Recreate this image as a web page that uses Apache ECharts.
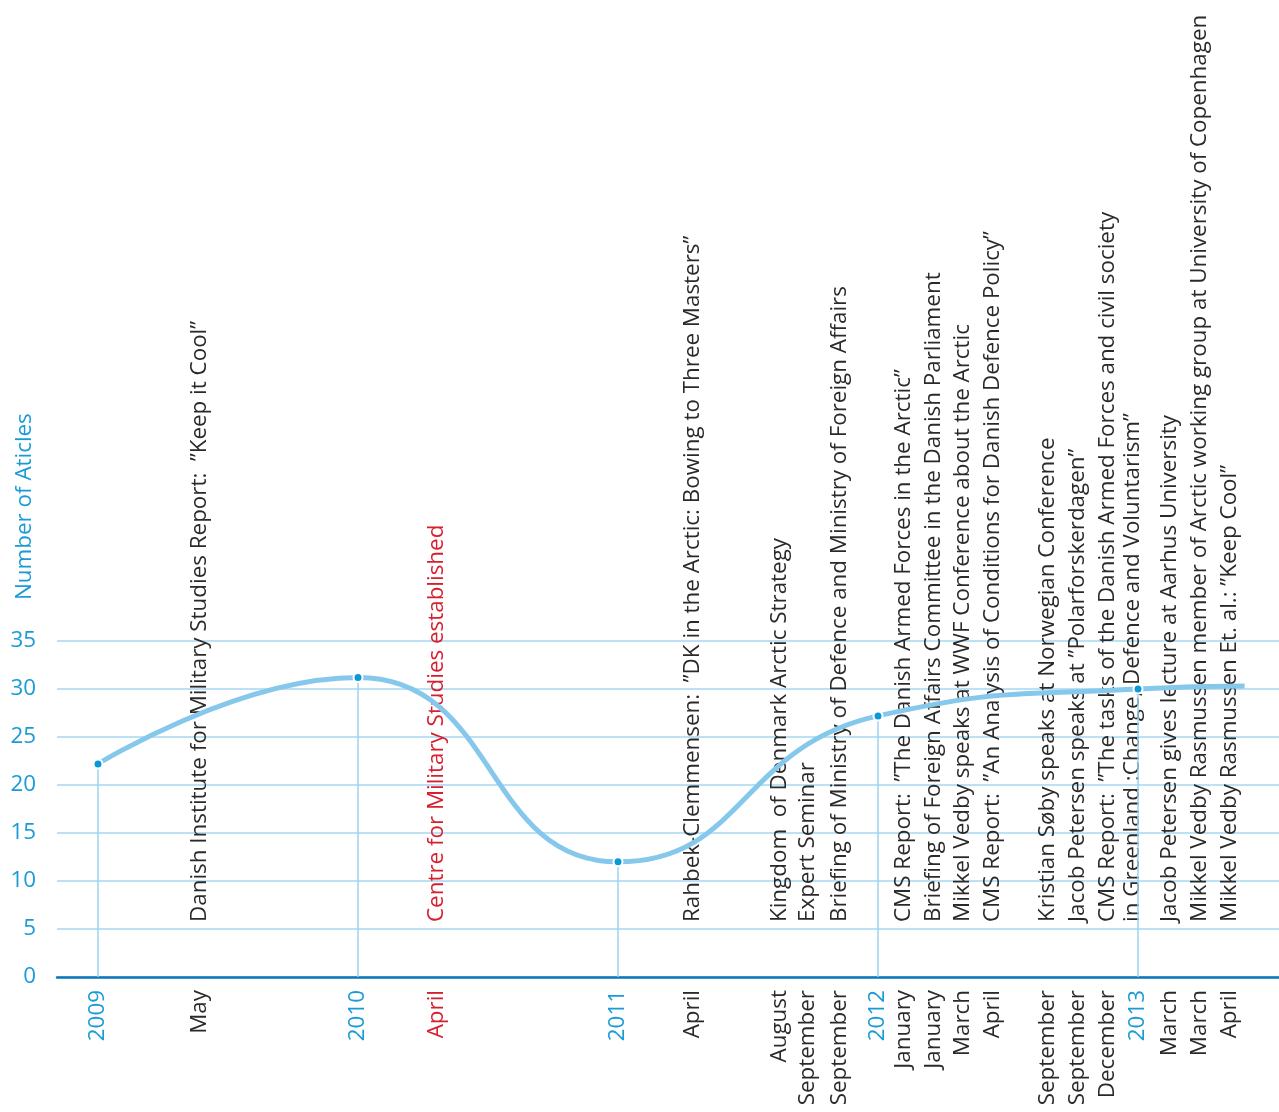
<!DOCTYPE html>
<html><head><meta charset="utf-8">
<script src="https://cdn.jsdelivr.net/npm/echarts@6/dist/echarts.min.js"></script>
<style>html,body{margin:0;padding:0;background:#fff}#c{width:1279px;height:1112px}</style>
</head><body><div id="c"></div>
<script>
// Data (decimal years on the x axis)
const pointYears = [2009, 2010, 2011, 2012, 2013, 2013.41];
const articleCounts = [22.2, 31.2, 12.0, 27.2, 30.0, 30.3];
const markedYears = [2009, 2010, 2011, 2012, 2013];
const yearTicks = [2009, 2010, 2011, 2012, 2013];
const monthTicks = [2009.392, 2010.304, 2011.288, 2011.623, 2011.731, 2011.854, 2012.100, 2012.215, 2012.327, 2012.442, 2012.654, 2012.769, 2012.885, 2013.123, 2013.238, 2013.354];
const monthLabels = ['May', 'April', 'April', 'August', 'September', 'September', 'January', 'January', 'March', 'April', 'September', 'September', 'December', 'March', 'March', 'April'];
const eventTicks = [2009.392, 2010.304, 2011.288, 2011.623, 2011.731, 2011.854, 2012.100, 2012.215, 2012.327, 2012.442, 2012.654, 2012.769, 2012.933, 2013.123, 2013.238, 2013.354];
const eventLabels = [
  'Danish Institute for Military Studies Report:  \u201DKeep it Cool\u201D',
  'Centre for Military Studies established',
  'Rahbek-Clemmensen:  \u201DDK in the Arctic: Bowing to Three Masters\u201D',
  'Kingdom  of Denmark Arctic Strategy',
  'Expert Seminar',
  'Briefing of Ministry of Defence and Ministry of Foreign Affairs',
  'CMS Report:  \u201DThe Danish Armed Forces in the Arctic\u201D',
  'Briefing of Foreign Affairs Committee in the Danish Parliament',
  'Mikkel Vedby speaks at WWF Conference about the Arctic',
  'CMS Report:  \u201DAn Analysis of Conditions for Danish Defence Policy\u201D',
  'Kristian S\u00F8by speaks at Norwegian Conference',
  'Jacob Petersen speaks at \u201DPolarforskerdagen\u201D',
  'CMS Report:  \u201DThe tasks of the Danish Armed Forces and civil society\nin Greenland :Change, Defence and Voluntarism\u201D',
  'Jacob Petersen gives lecture at Aarhus University',
  'Mikkel Vedby Rasmussen member of Arctic working group at University of Copenhagen',
  'Mikkel Vedby Rasmussen Et. al.: \u201DKeep Cool\u201D'
];
const highlightTicks = [2010.304];
const yAxisTitle = 'Number of Aticles';

const FONT = '"Open Sans", "Noto Sans", sans-serif';
const FS = 22.4;
const FW = 'normal';
const BLUE = '#1a9bd7';
const RED = '#d7202f';
const INK = '#2b2a29';
const near = (a, b) => Math.abs(a - b) < 1e-6;
const isHi = v => highlightTicks.some(h => near(h, v));

const lineData = pointYears.map((x, i) => ({
  value: [x, articleCounts[i]],
  symbol: markedYears.some(m => near(m, x)) ? 'circle' : 'none'
}));
const dropLines = markedYears.map(x => {
  const i = pointYears.findIndex(p => near(p, x));
  return [{ coord: [x, 0] }, { coord: [x, articleCounts[i]] }];
});

const chart = echarts.init(document.getElementById('c'), null, { renderer: 'canvas' });
chart.setOption({
  backgroundColor: '#fff',
  animation: false,
  grid: { left: 57, right: 0, top: 641, bottom: 135, containLabel: false, outerBoundsMode: 'none' },
  graphic: [{
    type: 'text', x: 25, y: 600, rotation: Math.PI / 2,
    style: { text: yAxisTitle, fill: BLUE, font: FW + ' ' + FS + 'px ' + FONT, align: 'left', verticalAlign: 'middle' }
  }],
  xAxis: [{
    type: 'value', position: 'bottom',
    min: 2008.8423, max: 2013.5423,
    axisLine: { show: true, lineStyle: { color: '#0b77b9', width: 2.5 } },
    axisTick: { show: false },
    splitLine: { show: false },
    axisLabel: {
      customValues: yearTicks.concat(monthTicks),
      rotate: 90, margin: 13, hideOverlap: false,
      fontFamily: FONT, fontSize: FS, fontWeight: FW,
      formatter: v => {
        if (yearTicks.some(y => near(y, v))) return '{y|' + Math.round(v) + '}';
        const i = monthTicks.findIndex(m => near(m, v));
        return (isHi(v) ? '{r|' : '{k|') + monthLabels[i] + '}';
      },
      rich: {
        y: { color: BLUE, fontFamily: FONT, fontSize: FS, fontWeight: FW },
        r: { color: RED, fontFamily: FONT, fontSize: FS, fontWeight: FW },
        k: { color: INK, fontFamily: FONT, fontSize: FS, fontWeight: FW }
      }
    }
  }, {
    type: 'value', position: 'bottom',
    min: 2008.8423, max: 2013.5423,
    axisLine: { show: false }, axisTick: { show: false }, splitLine: { show: false },
    axisLabel: {
      customValues: eventTicks,
      inside: true, rotate: 90, margin: 55, hideOverlap: false,
      fontFamily: FONT, fontSize: FS, fontWeight: FW, lineHeight: 25,
      formatter: v => {
        const i = eventTicks.findIndex(m => near(m, v));
        const s = isHi(v) ? 'r' : 'k';
        return eventLabels[i].split('\n').map(t => '{' + s + '|' + t + '}').join('\n');
      },
      rich: {
        r: { color: RED, fontFamily: FONT, fontSize: FS, fontWeight: FW, lineHeight: 25 },
        k: { color: INK, fontFamily: FONT, fontSize: FS, fontWeight: FW, lineHeight: 25 }
      }
    }
  }],
  yAxis: {
    type: 'value', min: 0, max: 35, interval: 5,
    axisLine: { show: false }, axisTick: { show: false },
    axisLabel: { color: BLUE, fontFamily: FONT, fontSize: FS, fontWeight: FW, margin: 21 },
    splitLine: { lineStyle: { color: '#a6d6f1', width: 1.5 } }
  },
  series: [{
    type: 'line', xAxisIndex: 0,
    data: lineData, smooth: 0.5,
    lineStyle: { color: '#86c8ec', width: 5 },
    symbolSize: 9,
    itemStyle: { color: '#0a98d8', borderColor: '#fff', borderWidth: 2 },
    z: 3,
    markLine: {
      silent: true, symbol: 'none', label: { show: false },
      lineStyle: { color: '#9fd2f1', width: 1.5, type: 'solid' },
      data: dropLines, z: 1
    }
  }]
});
</script></body></html>
